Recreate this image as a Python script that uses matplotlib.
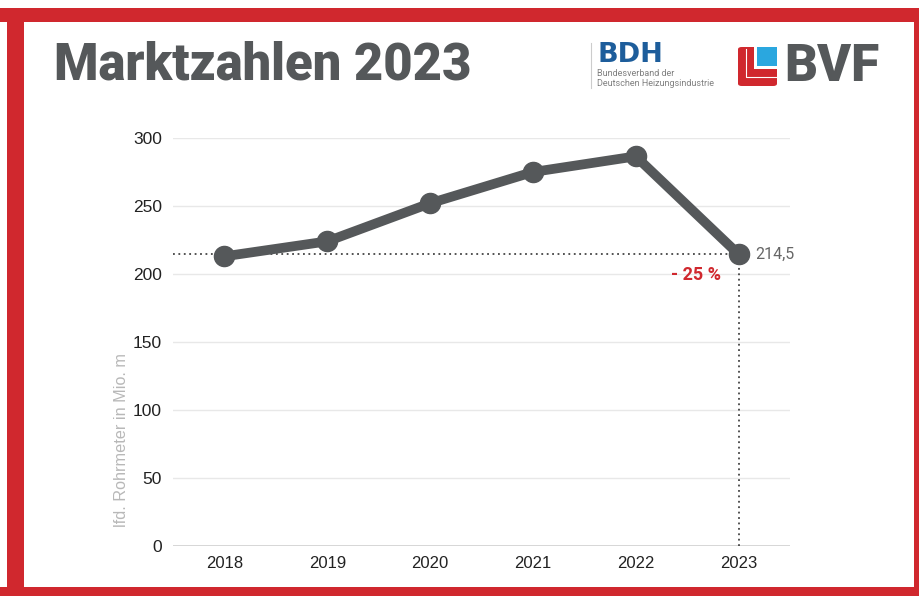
import matplotlib.pyplot as plt
from matplotlib.patches import Rectangle, FancyBboxPatch
from matplotlib.lines import Line2D

# Data
years = ["2018", "2019", "2020", "2021", "2022", "2023"]
values = [213, 224, 252, 275, 286.5, 214.5]
y_ticks = [0, 50, 100, 150, 200, 250, 300]
last_label = "214,5"
change_label = "- 25 %"

W, H = 919, 596
red = "#d0282e"
gray = "#55585a"

fig = plt.figure(figsize=(W / 100, H / 100), dpi=100)
fig.patch.set_facecolor("white")


def px(x, y, w, h):
    # pixel box (top-left origin) -> figure fraction
    return (x / W, 1 - (y + h) / H, w / W, h / H)


def box(x, y, w, h, color, **kw):
    b = px(x, y, w, h)
    fig.add_artist(Rectangle(b[:2], b[2], b[3], transform=fig.transFigure,
                             color=color, lw=0, **kw))


# red frame
box(0, 8, W, 14, red)
box(7, 8, 17, H, red)
box(0, 587, W, 9, red)
box(914, 8, 5, H, red)

# title
fig.text(54 / W, 1 - 66 / H, "Marktzahlen 2023", fontsize=36.5, fontweight="black",
         color=gray, va="center", ha="left", family="Roboto")

# BDH logo
fig.add_artist(Line2D([591 / W, 591 / W], [1 - 43 / H, 1 - 88 / H],
                      transform=fig.transFigure, color="#cccccc", lw=0.8))
fig.text(597 / W, 1 - 55 / H, "BDH", fontsize=19.5, fontweight="bold",
         color="#1d5d9b", va="center", ha="left", family="DejaVu Sans")
fig.text(597 / W, 1 - 74 / H, "Bundesverband der", fontsize=6.5,
         color="#808080", va="center", ha="left", family="Roboto")
fig.text(597 / W, 1 - 84 / H, "Deutschen Heizungsindustrie", fontsize=6.5,
         color="#808080", va="center", ha="left", family="Roboto")

# BVF logo
x0, y0, s = 738, 47, 39
b = px(x0, y0, s, s)
fig.add_artist(FancyBboxPatch(b[:2], b[2], b[3], boxstyle="round,pad=0,rounding_size=0.004",
                              transform=fig.transFigure, color=red, lw=0))
box(x0 + 16, y0, 23, 22, "white")
box(x0 + 19, y0, 20, 19, "#2aa7df")
fig.add_artist(Line2D([(x0 + 8) / W, (x0 + 8) / W, (x0 + 38) / W],
                      [1 - (y0 + 2) / H, 1 - (y0 + 30) / H, 1 - (y0 + 30) / H],
                      transform=fig.transFigure, color="white", lw=0.8))
fig.text(784 / W, 1 - 67 / H, "BVF", fontsize=37, fontweight="black",
         color=gray, va="center", ha="left", family="Roboto")

# chart
ax = fig.add_axes([173 / W, 50 / H, 617 / W, 408 / H])
x = list(range(len(years)))
ax.set_xlim(-0.5, len(years) - 0.5)
ax.set_ylim(0, 300)
ax.set_yticks(y_ticks)
ax.set_xticks(x)
ax.set_xticklabels(years)
for t in y_ticks[1:]:
    ax.axhline(t, color="#e8e8e8", lw=1, zorder=0)
ax.axhline(0, color="#cfcfcf", lw=1.2, zorder=0)
for sp in ax.spines.values():
    sp.set_visible(False)
ax.tick_params(axis="y", length=0, labelsize=12.5, labelcolor="#222222", pad=8)
ax.tick_params(axis="x", length=0, labelsize=12, labelcolor="#222222", pad=7)
for lab in ax.get_xticklabels() + ax.get_yticklabels():
    lab.set_family("Liberation Sans")

ax.plot([-0.5, x[-1]], [values[-1], values[-1]], ls=(0, (1, 2)), color="#444444", lw=1.3, zorder=1)
ax.plot([x[-1], x[-1]], [0, values[-1]], ls=(0, (1, 2)), color="#444444", lw=1.3, zorder=1)
ax.plot(x, values, color=gray, lw=7, marker="o", ms=14.5, zorder=3, clip_on=False,
        solid_joinstyle="round")

ax.annotate(last_label, (x[-1], values[-1]), xytext=(12, 0), textcoords="offset points",
            va="center", ha="left", fontsize=11.5, color="#666666", family="Roboto")
ax.annotate(change_label, (x[-1], values[-1]), xytext=(-13, -15), textcoords="offset points",
            va="center", ha="right", fontsize=13, fontweight="bold", color=red, family="Roboto")

ax.text(-1.0, 14, "lfd. Rohrmeter in Mio. m", rotation=90, ha="center", va="bottom",
        fontsize=11.7, color="#b8b8b8", family="Liberation Sans")

fig.savefig("out.png", dpi=100)
